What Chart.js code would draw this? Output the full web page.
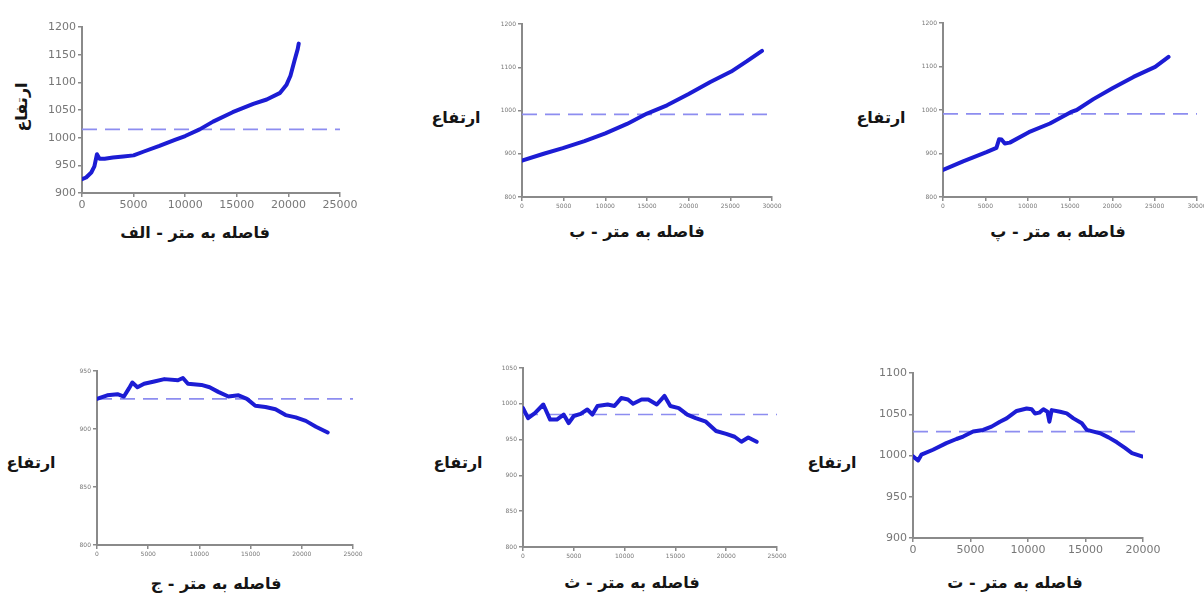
<!DOCTYPE html>
<html><head><meta charset="utf-8">
<script src="https://cdn.jsdelivr.net/npm/chart.js@4.4.1/dist/chart.umd.min.js"></script>
<style>
html,body{margin:0;padding:0;background:#fff;width:1204px;height:595px;overflow:hidden;position:relative;font-family:"DejaVu Sans",sans-serif;}
canvas{position:absolute;}
.t{position:absolute;font-weight:bold;font-size:16px;color:#151515;white-space:nowrap;direction:rtl;transform:translate(-50%,-50%);}
.rot{transform:translate(-50%,-50%) rotate(-90deg);}
</style></head><body>
<script>
// ---------- text ----------
const yTitle = 'ارتفاع';
const xTitles = ['فاصله به متر - الف', 'فاصله به متر - ب', 'فاصله به متر - پ',
                 'فاصله به متر - ج', 'فاصله به متر - ث', 'فاصله به متر - ت'];

// ---------- panel الف ----------
const distA = [0,400,900,1200,1450,1700,2200,3000,4000,5000,6000,7500,9000,10000,11400,12700,14600,16600,17900,19200,19800,20200,20600,20900,21000];
const elevA = [925,928,937,948,970,962,962,964,966,968,975,985,996,1003,1015,1029,1046,1061,1069,1081,1095,1112,1140,1160,1170];
const meanA = 1015;
const xTicksA = [0,5000,10000,15000,20000,25000];
const yTicksA = [900,950,1000,1050,1100,1150,1200];

// ---------- panel ب ----------
const distB = [0,2600,4900,7500,10000,12600,15000,17400,20000,22600,25100,27000,28800];
const elevB = [884,900,913,929,947,969,993,1012,1038,1066,1090,1114,1138];
const meanB = 991;
const xTicksB = [0,5000,10000,15000,20000,25000,30000];
const yTicksB = [800,900,1000,1100,1200];

// ---------- panel پ ----------
const distP = [0,2370,5130,6310,6630,6910,7300,7890,10140,12630,15080,15790,17760,20010,22500,25060,26640];
const elevP = [862,882,903,913,933,932,923,925,949,969,995,1000,1025,1050,1076,1099,1122];
const meanP = 991;
const xTicksP = [0,5000,10000,15000,20000,25000,30000];
const yTicksP = [800,900,1000,1100,1200];

// ---------- panel ج ----------
const distJ = [0,1000,2000,2630,3120,3450,3950,4600,5590,6580,7900,8390,8880,10200,11000,11840,12830,13820,14640,15460,16450,17430,18420,19410,20390,21380,22530];
const elevJ = [926,929,930,928,935,940,936,939,941,943,942,944,939,938,936,932,928,929,926,920,919,917,912,910,907,902,897];
const meanJ = 926;
const xTicksJ = [0,5000,10000,15000,20000,25000];
const yTicksJ = [800,850,900,950];

// ---------- panel ث ----------
const distS = [0,500,1170,2000,2670,3330,4000,4500,5000,5670,6330,6830,7330,8330,9000,9670,10330,10830,11670,12330,13170,13930,14500,15330,16170,17000,18000,19000,20000,20830,21500,22170,23000];
const elevS = [994,980,987,999,978,978,985,973,983,986,992,985,997,999,997,1008,1006,1000,1006,1006,999,1011,997,994,985,980,975,962,958,954,947,953,947];
const meanS = 985;
const xTicksS = [0,5000,10000,15000,20000,25000];
const yTicksS = [800,850,900,950,1000,1050];

// ---------- panel ت ----------
const distT = [0,440,730,1740,2900,3780,4360,5230,6100,6830,7560,8140,9010,9880,10320,10610,10990,11340,11690,11860,12060,12790,13370,13950,14680,15120,15700,16280,17000,17730,18460,19040,19910];
const elevT = [999,994,1001,1007,1015,1020,1023,1029,1031,1035,1041,1045,1054,1057,1056,1051,1052,1056,1053,1041,1055,1053,1051,1045,1039,1031,1029,1027,1022,1016,1009,1003,999];
const meanT = 1029;
const xTicksT = [0,5000,10000,15000,20000];
const yTicksT = [900,950,1000,1050,1100];

// ---------- layout (positions / styles only) ----------
const panels = [
  {x:distA,y:elevA,mean:meanA,meanEnd:25000,xt:xTicksA,yt:yTicksA,l:82,t:27,r:340,b:193,yw:50,xh:22,pt:10,pr:25,fs:11,lw:4,dash:[15,8],
   xTitle:xTitles[0],xtx:195,xty:232,ytx:21,yty:107,rot:true},
  {x:distB,y:elevB,mean:meanB,meanEnd:30000,xt:xTicksB,yt:yTicksB,l:522,t:24,r:772,b:197,yw:30,xh:14,pt:8,pr:15,fs:6,lw:4,dash:[15,8],
   xTitle:xTitles[1],xtx:637,xty:231,ytx:456,yty:117},
  {x:distP,y:elevP,mean:meanP,meanEnd:30000,xt:xTicksP,yt:yTicksP,l:943,t:23,r:1197,b:197,yw:30,xh:14,pt:8,pr:15,fs:6,lw:4,dash:[15,8],
   xTitle:xTitles[2],xtx:1058,xty:231,ytx:881,yty:117},
  {x:distJ,y:elevJ,mean:meanJ,meanEnd:25000,xt:xTicksJ,yt:yTicksJ,l:97,t:371,r:353,b:545,yw:30,xh:14,pt:8,pr:15,fs:6,lw:4,dash:[15,8],
   xTitle:xTitles[3],xtx:216,xty:583,ytx:31,yty:462},
  {x:distS,y:elevS,mean:meanS,meanEnd:25000,xt:xTicksS,yt:yTicksS,l:523,t:368,r:777,b:547,yw:30,xh:14,pt:8,pr:15,fs:6,lw:4,dash:[15,8],
   xTitle:xTitles[4],xtx:632,xty:582,ytx:458,yty:462},
  {x:distT,y:elevT,mean:meanT,meanEnd:20000,xt:xTicksT,yt:yTicksT,l:913,t:373,r:1143,b:538,yw:50,xh:22,pt:10,pr:25,fs:11,lw:4,dash:[15,8],
   xTitle:xTitles[5],xtx:1015,xty:582,ytx:832,yty:462}
];

function addText(txt, x, y, rot) {
  const d = document.createElement('div');
  d.className = 't' + (rot ? ' rot' : '');
  d.textContent = txt;
  d.style.left = x + 'px'; d.style.top = y + 'px';
  document.body.appendChild(d);
}

function makeChart(p) {
  const W = p.r - p.l + p.yw + p.pr, H = p.b - p.t + p.xh + p.pt;
  const c = document.createElement('canvas');
  c.width = W; c.height = H;
  c.style.left = (p.l - p.yw) + 'px'; c.style.top = (p.t - p.pt) + 'px';
  c.style.width = W + 'px'; c.style.height = H + 'px';
  document.body.appendChild(c);
  const axisCol = '#8a8a8a';
  const tickFont = {size:p.fs, family:'DejaVu Sans'};
  new Chart(c, {
    type:'line',
    data:{datasets:[
      {data:p.x.map((v,i)=>({x:v,y:p.y[i]})), borderColor:'#1c1cd4', borderWidth:p.lw, pointRadius:0, tension:0,
       borderJoinStyle:'round', borderCapStyle:'round'},
      {data:[{x:0,y:p.mean},{x:p.meanEnd,y:p.mean}], borderColor:'#8d8df0', borderWidth:1.6, borderDash:p.dash, pointRadius:0}
    ]},
    options:{
      responsive:false, animation:false, maintainAspectRatio:false,
      layout:{padding:{left:0, top:p.pt, right:p.pr, bottom:0}},
      plugins:{legend:{display:false}, tooltip:{enabled:false}},
      scales:{
        x:{type:'linear', min:p.xt[0], max:p.xt[p.xt.length-1],
           afterBuildTicks:s=>{ s.ticks = p.xt.map(v=>({value:v})); },
           afterFit:s=>{ s.height = p.xh; },
           ticks:{font:tickFont, color:'#777', maxRotation:0, autoSkip:false, padding:2, callback:v=>String(v)},
           grid:{drawOnChartArea:false, color:axisCol, tickLength:4, lineWidth:1.5},
           border:{color:axisCol, width:2}},
        y:{type:'linear', min:p.yt[0], max:p.yt[p.yt.length-1],
           afterBuildTicks:s=>{ s.ticks = p.yt.map(v=>({value:v})); },
           afterFit:s=>{ s.width = p.yw; },
           ticks:{font:tickFont, color:'#777', autoSkip:false, padding:2, callback:v=>String(v)},
           grid:{drawOnChartArea:false, color:axisCol, tickLength:4, lineWidth:1.5},
           border:{color:axisCol, width:2}}
      }
    }
  });
  addText(p.xTitle, p.xtx, p.xty, false);
  addText(yTitle, p.ytx, p.yty, !!p.rot);
}

panels.forEach(makeChart);
</script>
</body></html>
